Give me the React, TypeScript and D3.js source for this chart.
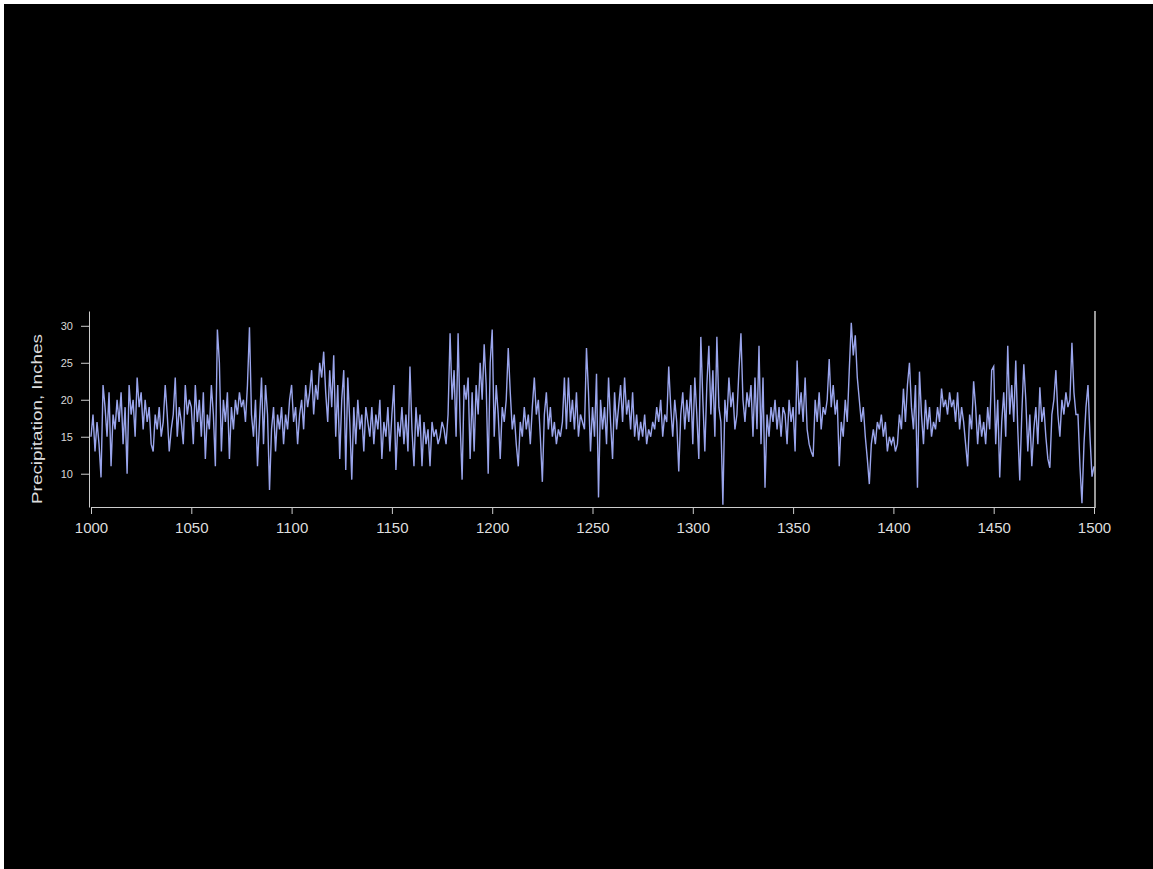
import React, { useEffect, useRef } from "react";
import * as d3 from "d3";

const startYear = 1000;
const endYear = 1500;

const precip1000s: number[] = [
  15, 18, 13, 17, 14, 9.5, 22, 19, 15, 21,
  11, 18, 16, 20, 17, 21, 14, 19, 10, 22,
  18, 20, 15, 23, 19, 21, 16, 20, 17, 19,
  14, 13, 18, 16, 19, 15, 17, 22, 18, 13,
  16, 18, 23, 15, 19, 17, 14, 22, 18, 20,
  19, 14, 22, 17, 20, 15, 21, 12, 18, 16,
  22, 18, 11, 29.5, 25, 13, 20, 17, 21, 12,
  19, 16, 20, 18, 21, 19, 20, 17, 22, 29.8,
  18, 15, 20, 11, 17, 23, 14, 22, 18, 7.8,
  16, 19, 13, 18, 16, 19, 14, 18, 16, 20,
];
const precip1100s: number[] = [
  22, 17, 19, 14, 18, 20, 16, 22, 19, 21,
  24, 18, 22, 20, 25, 23, 26.5, 21, 17, 24,
  19, 26, 15, 22, 12, 20, 24, 10.5, 23, 17,
  9.2, 19, 14, 20, 16, 18, 13, 19, 17, 15,
  19, 14, 18, 16, 20, 12, 17, 15, 19, 13,
  18, 22, 10.5, 17, 15, 19, 14, 18, 13, 24.5,
  16, 11, 19, 15, 18, 11, 17, 14, 16, 11,
  17, 15, 16, 14, 15, 17, 16, 14, 18, 29,
  20, 24, 15, 29, 17, 9.2, 22, 20, 23, 12,
  21, 13, 22, 18, 25, 20, 27.5, 22, 10, 25,
];
const precip1200s: number[] = [
  29.5, 15, 22, 18, 12, 19, 17, 20, 27, 21,
  16, 18, 14, 11, 17, 15, 19, 16, 18, 14,
  19, 23, 18, 20, 15, 8.9, 18, 21, 16, 19,
  15, 17, 14, 16, 15, 17, 23, 16, 23, 17,
  20, 16, 21, 15, 18, 17, 16, 27, 21, 13,
  19, 15, 23.5, 6.8, 20, 16, 19, 14, 23, 17,
  12, 21, 16, 19, 22, 17, 23, 18, 20, 16,
  21, 15, 18, 14.5, 17, 15, 18, 14, 16, 15,
  17, 16, 19, 17, 20, 15, 18, 17, 24.5, 19,
  15, 20, 17, 10.3, 18, 21, 16, 20, 17, 22,
];
const precip1300s: number[] = [
  14, 23, 18, 12, 28.5, 20, 13, 22, 27.3, 18,
  24, 15, 28.5, 19, 17, 5.8, 20, 17, 23, 19,
  21, 16, 18, 24, 29, 20, 17, 21, 19, 22,
  15, 23, 16, 27.3, 14, 23, 8.1, 18, 15, 19,
  17, 20, 16, 19, 15, 19, 18, 14, 20, 17,
  19, 13, 25.3, 18, 21, 17, 23, 16, 14, 13,
  12.3, 20, 17, 21, 16, 19, 18, 20, 25.5, 19,
  22, 18, 20, 11, 17, 15, 20, 17, 24, 30.4,
  26, 28.7, 23, 20, 17, 19, 15, 12, 8.6, 14,
  16, 14, 17, 16, 18, 15, 17, 13, 15, 14,
];
const precip1400s: number[] = [
  15, 13, 14, 18, 16, 21.5, 17, 22, 25, 19,
  16, 22, 8.1, 23.8, 18, 14, 20, 16, 19, 15,
  17, 16, 19, 17, 21.5, 19, 20, 18, 21, 19,
  20, 17, 21, 16, 19, 17, 14, 11, 18, 16,
  22.5, 19, 14, 18, 15, 17, 14, 19, 16, 24,
  24.5, 14, 20, 9.5, 17, 21, 15, 27.3, 18, 22,
  17, 25.3, 16, 9.1, 18, 24.8, 20, 13, 18, 11,
  16, 19, 14, 21.7, 17, 19, 15, 12, 10.8, 18,
  20, 24, 18, 15, 20, 18, 21, 19, 20, 27.7,
  21, 18, 18, 11, 6.0, 14, 19, 22, 15, 9.6,
  11,
];

const xTickYears: number[] = [1000, 1050, 1100, 1150, 1200, 1250, 1300, 1350, 1400, 1450, 1500];
const yTickValues: number[] = [10, 15, 20, 25, 30];
const yLabel = "Precipitation, Inches";

const values = [...precip1000s, ...precip1100s, ...precip1200s, ...precip1300s, ...precip1400s];
const data = values.map((v, i) => ({ year: startYear + i, value: v }));

const W = 1153;
const H = 869;

export default function App() {
  const xRef = useRef<SVGGElement>(null);
  const yRef = useRef<SVGGElement>(null);

  const x = d3.scaleLinear().domain([startYear, endYear]).range([91, 1094]);
  const y = d3.scaleLinear().domain([5.5, 32]).range([507, 311]);

  const line = d3
    .line<{ year: number; value: number }>()
    .x((d) => x(d.year))
    .y((d) => y(d.value));

  useEffect(() => {
    if (xRef.current) {
      const g = d3.select(xRef.current);
      g.call(
        d3
          .axisBottom(x)
          .tickValues(xTickYears)
          .tickSize(7)
          .tickSizeOuter(0)
          .tickFormat(d3.format("d"))
      );
      g.select(".domain").attr("stroke", "#cccccc");
      g.selectAll(".tick line").attr("stroke", "#cccccc");
      g.selectAll(".tick text")
        .attr("fill", "#dddddd")
        .attr("font-size", 15)
        .attr("font-family", "'Liberation Sans', Arial, sans-serif")
        .attr("dy", "1.05em");
    }
    if (yRef.current) {
      const g = d3.select(yRef.current);
      g.call(d3.axisLeft(y).tickValues(yTickValues).tickSize(8).tickSizeOuter(0));
      g.select(".domain").attr("stroke", "#cccccc");
      g.selectAll(".tick line").attr("stroke", "#cccccc");
      g.selectAll(".tick text")
        .attr("fill", "#d8d8d8")
        .attr("font-size", 11)
        .attr("font-family", "'Liberation Sans', Arial, sans-serif")
        .attr("x", -16);
    }
  }, []);

  return (
    <svg
      width={W}
      height={H}
      style={{ position: "absolute", left: 0, top: 0, display: "block" }}
    >
      <rect x={0} y={0} width={W} height={H} fill="#ffffff" />
      <rect x={4} y={4} width={W - 4} height={H - 4} fill="#000000" />
      <path d={line(data) || ""} fill="none" stroke="#9aa5ec" strokeWidth={1.4} />
      <g ref={xRef} transform={`translate(0,${y(5.5)})`} />
      <g ref={yRef} transform={`translate(89,0)`} />
      <line x1={1095} x2={1095} y1={311} y2={508} stroke="#cccccc" strokeWidth={1.5} />
      <text
        transform={`translate(42,${(y(5.5) + y(32)) / 2 + 10}) rotate(-90)`}
        textAnchor="middle"
        fill="#dddddd"
        fontSize={14}
        fontFamily="'Liberation Sans', Arial, sans-serif"
        textLength={170}
        lengthAdjust="spacingAndGlyphs"
      >
        {yLabel}
      </text>
    </svg>
  );
}
